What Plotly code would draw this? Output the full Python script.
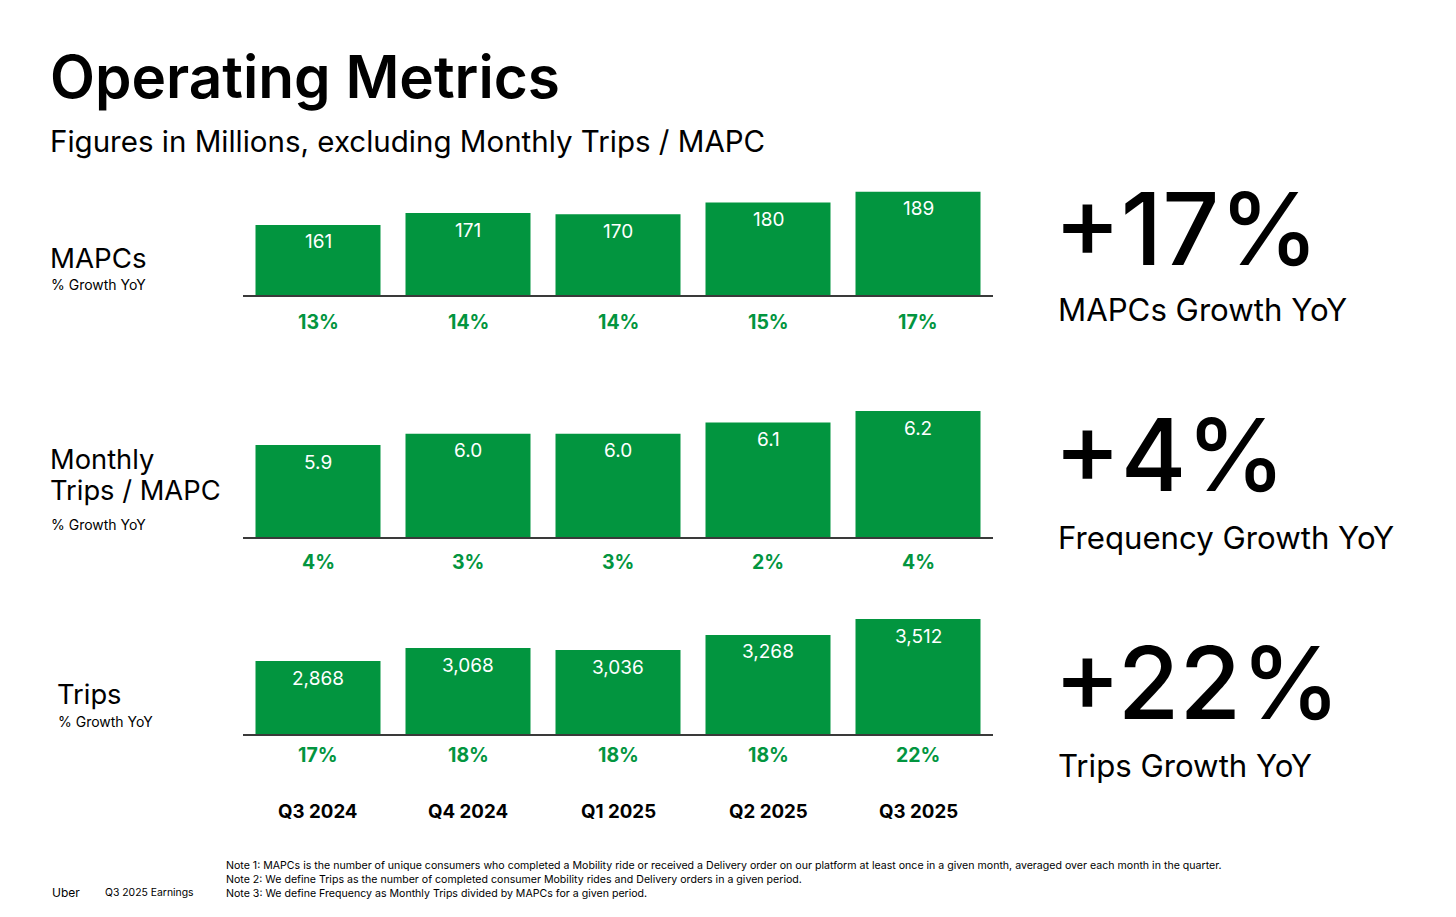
import plotly.graph_objects as go

# ---------------- data ----------------
quarters = ["Q3 2024", "Q4 2024", "Q1 2025", "Q2 2025", "Q3 2025"]
mapcs = [161, 171, 170, 180, 189]
mapcs_labels = ["161", "171", "170", "180", "189"]
mapcs_growth = ["13%", "14%", "14%", "15%", "17%"]
freq = [5.9, 6.0, 6.0, 6.1, 6.2]
freq_labels = ["5.9", "6.0", "6.0", "6.1", "6.2"]
freq_growth = ["4%", "3%", "3%", "2%", "4%"]
trips = [2868, 3068, 3036, 3268, 3512]
trips_labels = ["2,868", "3,068", "3,036", "3,268", "3,512"]
trips_growth = ["17%", "18%", "18%", "18%", "22%"]
headline = ["+17%", "+4%", "+22%"]
headline_sub = ["MAPCs Growth YoY", "Frequency Growth YoY", "Trips Growth YoY"]
notes = [
    "Note 1: MAPCs is the number of unique consumers who completed a Mobility ride or received a Delivery order on our platform at least once in a given month, averaged over each month in the quarter.",
    "Note 2: We define Trips as the number of completed consumer Mobility rides and Delivery orders in a given period.",
    "Note 3: We define Frequency as Monthly Trips divided by MAPCs for a given period.",
]

# ---------------- layout helpers ----------------
W, H = 1456, 917
OFF = 8  # page body margin
GREEN = "#02953f"
FONT = "Inter"


def px(x):
    return (x - OFF) / W


def py(y):
    return 1 - (y - OFF) / H


# panel geometry (pixels from top): baseline, top of domain ; y-ranges
panels = [
    dict(vals=mapcs, labels=mapcs_labels, growth=mapcs_growth, base=295, top=180,
         rng=[101.6, 101.6 + 115 / 1.18], gshift=27),
    dict(vals=freq, labels=freq_labels, growth=freq_growth, base=537, top=400,
         rng=[5.086, 5.086 + 137 / 113.0], gshift=25),
    dict(vals=trips, labels=trips_labels, growth=trips_growth, base=734, top=605,
         rng=[1749, 1749 + 129 / 0.0652], gshift=21),
]

fig = go.Figure()
annotations = []
layout_axes = {}

for i, p in enumerate(panels):
    n = "" if i == 0 else str(i + 1)
    fig.add_trace(go.Bar(
        x=quarters, y=p["vals"], xaxis="x" + n, yaxis="y" + n,
        marker=dict(color=GREEN, line=dict(width=0)),
        hoverinfo="skip", showlegend=False,
    ))
    layout_axes["xaxis" + n] = dict(
        domain=[px(243), px(993)], anchor="y" + n, showline=True,
        linecolor="#3a3a3a", linewidth=1.6, showticklabels=False, ticks="",
        showgrid=False, zeroline=False, fixedrange=True,
    )
    layout_axes["yaxis" + n] = dict(
        domain=[py(p["base"]), py(p["top"])], anchor="x" + n, range=p["rng"],
        showgrid=False, zeroline=False, showticklabels=False, showline=False,
        fixedrange=True,
    )
    for q, v, lab, g in zip(quarters, p["vals"], p["labels"], p["growth"]):
        annotations.append(dict(
            x=q, y=v, xref="x" + n, yref="y" + n, text=lab, showarrow=False,
            yanchor="middle", yshift=-17,
            font=dict(family=FONT, size=19, color="white", weight=400),
        ))
        annotations.append(dict(
            x=q, y=0, xref="x" + n, yref="y" + n + " domain", text=g, showarrow=False,
            yanchor="middle", yshift=-p["gshift"],
            font=dict(family=FONT, size=19.5, color=GREEN, weight=700),
        ))

# category labels under the last panel
for q in quarters:
    annotations.append(dict(
        x=q, y=py(811), xref="x3", yref="paper", text=q, showarrow=False,
        yanchor="middle", font=dict(family=FONT, size=18.7, color="black", weight=700),
    ))


def txt(x, y, text, size, weight=400, color="black", anchor="left"):
    annotations.append(dict(
        x=px(x), y=py(y), xref="paper", yref="paper", text=text, showarrow=False,
        xanchor=anchor, yanchor="middle", align="left",
        font=dict(family=FONT, size=size, color=color, weight=weight),
    ))


# title and subtitle
txt(48, 76, "Operating Metrics", 58.5, 600)
txt(48, 141, "Figures in Millions, excluding Monthly Trips / MAPC", 29.5, 400)

# left labels
txt(48, 258, "MAPCs", 27.7)
txt(49, 284, "% Growth YoY", 14)
txt(48, 459, "Monthly", 27.3)
txt(48, 490, "Trips / MAPC", 27.3)
txt(49, 524, "% Growth YoY", 14)
txt(55, 694, "Trips", 27.3)
txt(56, 721, "% Growth YoY", 14)

# right headlines
big_y = [228, 455, 682]
sub_y = [310, 538, 766]
for h, s, by, sy in zip(headline, headline_sub, big_y, sub_y):
    txt(1052, by, h, 100, 500)
    txt(1056, sy, s, 31.2, 400)

# footer
txt(50, 892, "Uber", 12)
txt(103, 892, "Q3 2025 Earnings", 10.4)
for k, (nt, ny) in enumerate(zip(notes, [865, 879, 893])):
    txt(224, ny, nt, 10.6)

fig.update_layout(
    width=W, height=H, margin=dict(l=0, r=0, t=0, b=0),
    paper_bgcolor="white", plot_bgcolor="white",
    bargap=25 / 150, annotations=annotations, **layout_axes,
)

fig.write_html("out.html")
